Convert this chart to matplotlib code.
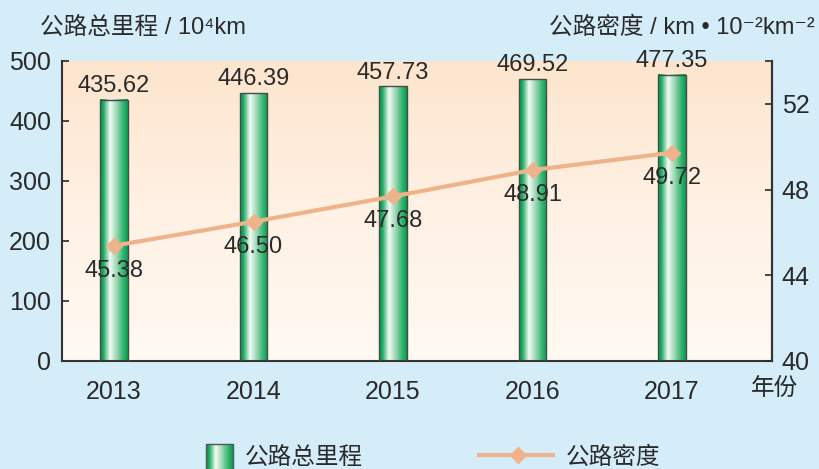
import matplotlib.pyplot as plt
import matplotlib as mpl
import numpy as np

plt.rcParams['font.family'] = ['Liberation Sans', 'Noto Sans CJK SC', 'DejaVu Sans']

# Road network data 2013-2017
years = ['2013', '2014', '2015', '2016', '2017']
mileage = [435.62, 446.39, 457.73, 469.52, 477.35]   # 10^4 km
density = [45.38, 46.50, 47.68, 48.91, 49.72]        # km / 100 km^2

bg_color = '#d5ecf9'
line_color = '#eeb38b'
dark = '#2a2a2a'

# Colormap for the cylinder-looking bars
bar_cmap = mpl.colors.LinearSegmentedColormap.from_list(
    'cyl', [(0.0, '#009548'), (0.12, '#1daa60'), (0.36, '#f4fbf6'),
            (0.6, '#9ad6b1'), (0.85, '#2db26c'), (1.0, '#00a050')])
bg_cmap = mpl.colors.LinearSegmentedColormap.from_list(
    'bg', ['#fffaf3', '#fff1e4', '#fde5cd'])

fig = plt.figure(figsize=(8.2, 4.69), dpi=100, facecolor=bg_color)
ax = fig.add_axes([0.0756, 0.2303, 0.8659, 0.6397])
ax.set_facecolor('none')

# Vertical gradient in the plot area
vgrad = np.linspace(0, 1, 256).reshape(-1, 1)
ax.imshow(vgrad, extent=[0, 1, 0, 1], transform=ax.transAxes, origin='lower',
          cmap=bg_cmap, aspect='auto', zorder=0)

x = np.arange(len(years))
width = 0.2
hgrad = np.linspace(0, 1, 256).reshape(1, -1)
for xi, h in zip(x, mileage):
    ax.imshow(hgrad, extent=[xi - width / 2, xi + width / 2, 0, h],
              cmap=bar_cmap, aspect='auto', zorder=2)
ax.bar(x, mileage, width, facecolor='none', edgecolor='#4a4a4a', linewidth=1, zorder=3)
for xi, h in zip(x, mileage):
    ax.annotate(f'{h:.2f}', (xi, h), xytext=(0, 2), textcoords='offset points',
                ha='center', va='bottom', fontsize=17, color=dark, zorder=5)

ax.set_xlim(-0.373, 4.717)
ax.set_ylim(0, 500)
ax.set_yticks([0, 100, 200, 300, 400, 500])
ax.set_xticks(x)
ax.set_xticklabels(years)
ax.tick_params(axis='y', direction='in', length=5, width=1.2, color=dark,
               labelsize=18, labelcolor=dark, pad=8)
ax.tick_params(axis='x', length=0, labelsize=18, labelcolor=dark, pad=14)
ax.spines['top'].set_visible(False)
for s in ['left', 'bottom', 'right']:
    ax.spines[s].set_color('#333333')
    ax.spines[s].set_linewidth(1.5)

# Density on the secondary axis
ax2 = ax.twinx()
ax2.plot(x, density, color=line_color, lw=3, marker='D', ms=8, zorder=4)
for xi, d in zip(x, density):
    ax2.annotate(f'{d:.2f}', (xi, d), xytext=(0, -18), textcoords='offset points',
                 ha='center', va='center', fontsize=17, color=dark)
ax2.set_ylim(40, 54)
ax2.set_yticks([40, 44, 48, 52, 54])
ax2.set_yticklabels(['40', '44', '48', '52', ''])
ax2.tick_params(axis='y', direction='in', length=5, width=1.2, color=dark,
                labelsize=18, labelcolor=dark, pad=7)
for s in ['top', 'left', 'bottom']:
    ax2.spines[s].set_visible(False)
ax2.spines['right'].set_color('#333333')
ax2.spines['right'].set_linewidth(1.5)

# Axis titles
fig.text(40 / 820, 1 - 28 / 469, '公路总里程 / 10⁴km', fontsize=17, color=dark,
         ha='left', va='center')
fig.text(815 / 820, 1 - 28 / 469, '公路密度 / km • 10⁻²km⁻²', fontsize=17, color=dark,
         ha='right', va='center')
fig.text(775 / 820, 1 - 389 / 469, '年份', fontsize=17, color=dark,
         ha='center', va='center')

# Legend drawn in pixel space along the bottom edge
lg = fig.add_axes([0, 0, 1, 1], zorder=10)
lg.set_xlim(0, 820)
lg.set_ylim(469, 0)
lg.axis('off')
lg.imshow(hgrad, extent=[206, 233, 469, 444], cmap=bar_cmap, aspect='auto')
lg.plot([206, 206, 233, 233], [469, 444, 444, 469], color='#555555', lw=1)
lg.text(245, 458, '公路总里程', fontsize=17, color=dark, ha='left', va='center')
lg.plot([479, 553], [455, 455], color=line_color, lw=3)
lg.plot([518], [455], color=line_color, marker='D', ms=8)
lg.text(566, 458, '公路密度', fontsize=17, color=dark, ha='left', va='center')
lg.set_xlim(0, 820)
lg.set_ylim(469, 0)

fig.savefig('out.png', dpi=100, facecolor=bg_color)
